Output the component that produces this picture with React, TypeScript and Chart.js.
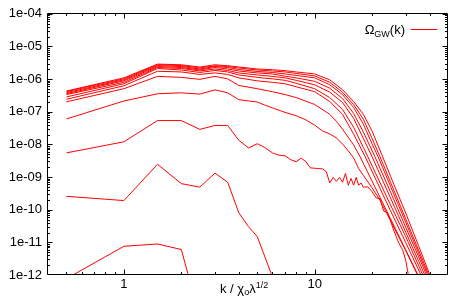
import React, { useEffect, useRef } from "react";
import { Chart, registerables } from "chart.js";

Chart.register(...registerables);

// ---- data: k values and log10(Omega_GW) ----
const k1 = [0.5, 1, 1.5, 2, 2.5];
const e1 = [-12.11, -11.12, -11.05, -11.22, -13.3];

const k2 = [0.5, 1, 1.5, 2, 2.5, 3, 3.5, 4, 4.5, 5, 6];
const e2 = [-9.59, -9.72, -8.61, -9.2, -9.31, -8.88, -9.16, -10.09, -10.52, -10.82, -12.05];

const k3 = [0.5, 1, 1.5, 2, 2.5, 3, 3.5, 4, 4.5, 5, 5.5, 6, 6.5, 7, 7.5, 8, 8.5, 9, 9.5, 10, 10.5, 11, 11.5, 12, 12.5, 13, 13.5, 14, 14.5, 15, 15.5, 16, 16.5, 17, 17.5, 18, 19, 20, 21, 22, 22.5, 23, 24, 25, 26, 27.5, 29, 30, 31, 32];
const e3 = [-8.26, -7.92, -7.27, -7.27, -7.54, -7.42, -7.42, -7.87, -8.11, -7.98, -8.1, -8.26, -8.33, -8.35, -8.47, -8.53, -8.42, -8.53, -8.72, -8.73, -8.74, -8.75, -8.83, -9.18, -9.01, -9.13, -9.01, -9.16, -8.89, -9.25, -9.04, -9.25, -9.01, -9.25, -9.18, -9.31, -9.3, -9.45, -9.64, -9.66, -9.86, -10.04, -10.09, -10.34, -10.64, -11.0, -11.25, -11.55, -12.0, -12.3];

const k4 = [0.5, 1, 1.5, 2, 2.5, 3, 3.5, 4, 4.5, 5, 5.5, 6, 7, 8, 9, 10, 11, 12, 13, 14, 15, 16, 17, 18, 20, 22, 25, 30, 34.2, 40];
const e4 = [-7.22, -6.67, -6.45, -6.42, -6.46, -6.33, -6.42, -6.63, -6.67, -6.7, -6.8, -6.88, -7.02, -7.12, -7.25, -7.41, -7.59, -7.68, -7.8, -7.99, -8.2, -8.41, -8.74, -8.95, -9.33, -9.71, -10.34, -11.25, -11.94, -12.91];

const k5 = [0.5, 1, 1.5, 2, 2.5, 3, 3.5, 4, 5, 6, 7, 8, 10, 12, 13, 14, 16, 17.3, 25, 30, 34.4, 45, 50];
const e5 = [-6.696, -6.294, -5.917, -5.947, -6.008, -5.917, -5.992, -6.195, -6.294, -6.385, -6.475, -6.566, -6.777, -7.079, -7.291, -7.532, -8.015, -8.377, -10.279, -11.23, -11.94, -13.328, -13.872];

const k6 = [0.5, 1, 1.5, 2, 2.5, 3, 3.5, 4, 5, 6, 7, 8, 10, 12, 14, 16, 18.4, 25, 30, 35.7, 45, 50];
const e6 = [-6.617, -6.204, -5.76, -5.781, -5.857, -5.811, -5.857, -5.962, -6.053, -6.098, -6.143, -6.234, -6.385, -6.687, -7.079, -7.683, -8.377, -10.038, -11.004, -11.94, -13.178, -13.842];

const k7 = [0.5, 1, 1.5, 2, 2.5, 3, 3.5, 4, 5, 6, 7, 8, 10, 12, 14, 16, 18, 19, 25, 30, 35, 36.5, 45, 50];
const e7 = [-6.545, -6.143, -5.675, -5.721, -5.796, -5.736, -5.781, -5.872, -5.947, -5.992, -6.038, -6.128, -6.294, -6.566, -6.928, -7.472, -8.091, -8.377, -9.857, -10.823, -11.698, -11.94, -13.087, -13.751];

const k8 = [0.5, 1, 1.5, 2, 2.5, 3, 3.5, 4, 5, 6, 7, 8, 10, 12, 14, 16, 18, 20, 25, 30, 35, 37.4, 45, 50];
const e8 = [-6.475, -6.098, -5.645, -5.675, -5.751, -5.691, -5.736, -5.811, -5.872, -5.917, -5.962, -6.038, -6.174, -6.4, -6.717, -7.2, -7.819, -8.377, -9.645, -10.687, -11.562, -11.94, -12.996, -13.66];

const k9 = [0.5, 1, 1.5, 2, 2.5, 3, 3.5, 4, 5, 6, 7, 8, 10, 12, 14, 16, 18, 20.7, 25, 30, 35, 38.2, 45, 50];
const e9 = [-6.445, -6.053, -5.615, -5.645, -5.721, -5.645, -5.691, -5.751, -5.811, -5.842, -5.911, -5.962, -6.068, -6.279, -6.596, -7.049, -7.623, -8.377, -9.464, -10.536, -11.427, -11.94, -12.906, -13.57];

const k10 = [0.5, 1, 1.5, 2, 2.5, 3, 3.5, 4, 5, 6, 7, 8, 10, 12, 14, 16, 18, 20, 21.5, 25, 30, 35, 38.8, 45, 50];
const e10 = [-6.415, -6.023, -5.585, -5.615, -5.691, -5.615, -5.645, -5.706, -5.766, -5.796, -5.842, -5.887, -5.962, -6.174, -6.475, -6.868, -7.381, -7.985, -8.377, -9.283, -10.385, -11.321, -11.94, -12.845, -13.479];

const k11 = [0.5, 1, 1.5, 2, 2.5, 3, 3.5, 4, 5, 6, 7, 8, 10, 12, 14, 16, 18, 20, 22, 25, 30, 35, 39.3, 45, 50];
const e11 = [-6.385, -5.992, -5.561, -5.585, -5.66, -5.591, -5.615, -5.66, -5.721, -5.751, -5.781, -5.826, -5.902, -6.098, -6.4, -6.777, -7.23, -7.819, -8.377, -9.162, -10.279, -11.23, -11.94, -12.785, -13.449];

const k12 = [0.5, 1, 1.5, 2, 2.5, 3, 3.5, 4, 5, 6, 7, 8, 10, 12, 14, 16, 18, 20, 22.5, 25, 30, 35, 40, 45, 50];
const e12 = [-6.364, -5.962, -5.54, -5.561, -5.63, -5.561, -5.591, -5.63, -5.691, -5.712, -5.742, -5.781, -5.842, -6.023, -6.325, -6.687, -7.079, -7.592, -8.317, -8.981, -10.098, -11.094, -11.97, -12.755, -13.449];

const curveK = [k1, k2, k3, k4, k5, k6, k7, k8, k9, k10, k11, k12];
const curveE = [e1, e2, e3, e4, e5, e6, e7, e8, e9, e10, e11, e12];

const xTickValues = [1, 10];
const xMinorTicks = [0.5, 0.6, 0.7, 0.8, 0.9, 2, 3, 4, 5, 6, 7, 8, 9, 20, 30, 40];
const yDecades = [-12, -11, -10, -9, -8, -7, -6, -5, -4];
const yMinorMultipliers = [2, 3, 4, 5, 6, 7, 8, 9];
const xMin = 0.4;
const xMax = 50;
const yMin = 1e-12;
const yMax = 1e-4;

const FONT = "'Liberation Sans', Arial, Helvetica, sans-serif";
const RED = "#ff0000";

function drawRich(ctx: CanvasRenderingContext2D, segs: { t: string; s: number; dy: number }[], x: number, base: number) {
  let cx = x;
  for (const seg of segs) {
    ctx.font = `${seg.s}px ${FONT}`;
    ctx.fillText(seg.t, cx, base + seg.dy);
    cx += ctx.measureText(seg.t).width;
  }
  return cx;
}
function richWidth(ctx: CanvasRenderingContext2D, segs: { t: string; s: number; dy: number }[]) {
  let w = 0;
  for (const seg of segs) {
    ctx.font = `${seg.s}px ${FONT}`;
    w += ctx.measureText(seg.t).width;
  }
  return w;
}

const framePlugin = {
  id: "gnuFrame",
  afterDraw(chart: any) {
    const { ctx, chartArea: a, scales } = chart;
    const xs = scales.x;
    const ys = scales.y;
    const L = Math.round(a.left) - 0.5;
    const R = Math.round(a.right) - 0.5;
    const T = Math.round(a.top) - 0.5;
    const B = Math.round(a.bottom) - 0.5;
    ctx.save();
    ctx.strokeStyle = "#000";
    ctx.lineWidth = 1;
    ctx.beginPath();
    ctx.rect(L, T, R - L, B - T);
    // y ticks
    const yt = (v: number, len: number) => {
      const p = Math.round(ys.getPixelForValue(v)) + 0.5;
      if (p < T + 1 || p > B - 1) return;
      ctx.moveTo(L, p); ctx.lineTo(L + len, p);
      ctx.moveTo(R, p); ctx.lineTo(R - len, p);
    };
    for (const d of yDecades) {
      yt(Math.pow(10, d), 5);
      for (const m of yMinorMultipliers) yt(m * Math.pow(10, d), 2.5);
    }
    const xt = (v: number, len: number) => {
      const p = Math.round(xs.getPixelForValue(v)) + 0.5;
      if (p < L + 1 || p > R - 1) return;
      ctx.moveTo(p, B); ctx.lineTo(p, B - len);
      ctx.moveTo(p, T); ctx.lineTo(p, T + len);
    };
    for (const v of xTickValues) xt(v, 5);
    for (const v of xMinorTicks) xt(v, 2.5);
    ctx.stroke();

    // x-axis title
    ctx.fillStyle = "#000";
    ctx.textBaseline = "alphabetic";
    ctx.textAlign = "left";
    const title = [
      { t: "k / \u03c7", s: 13, dy: 0 },
      { t: "o", s: 9, dy: 2 },
      { t: "\u03bb", s: 13, dy: 0 },
      { t: "1/2", s: 9, dy: -5 },
    ];
    drawRich(ctx, title, 220, 293);

    // legend
    const leg = [
      { t: "\u03a9", s: 13, dy: 0 },
      { t: "GW", s: 9, dy: 3 },
      { t: "(k)", s: 13, dy: 0 },
    ];
    const w = richWidth(ctx, leg);
    drawRich(ctx, leg, 405 - w, 34);
    ctx.strokeStyle = RED;
    ctx.beginPath();
    ctx.moveTo(411, 29.5);
    ctx.lineTo(437, 29.5);
    ctx.stroke();
    ctx.restore();
  },
};

export default function App() {
  const ref = useRef<HTMLCanvasElement | null>(null);
  useEffect(() => {
    if (!ref.current) return;
    const datasets = curveK.map((ks, i) => ({
      label: "c" + i,
      data: ks.map((k, j) => ({ x: k, y: Math.pow(10, curveE[i][j]) })),
      borderColor: RED,
      backgroundColor: RED,
      borderWidth: 1,
      pointRadius: 0,
      tension: 0,
      fill: false,
      clip: 0,
    }));
    const chart = new Chart(ref.current, {
      type: "line",
      data: { datasets },
      plugins: [framePlugin],
      options: {
        animation: false,
        responsive: false,
        devicePixelRatio: 1,
        layout: { padding: { left: 0, right: 15, top: 10, bottom: 0 } },
        plugins: { legend: { display: false }, tooltip: { enabled: false }, title: { display: false } },
        scales: {
          x: {
            type: "logarithmic",
            min: xMin,
            max: xMax,
            grid: { display: false, drawTicks: false },
            border: { display: false },
            ticks: {
              autoSkip: false,
              maxRotation: 0,
              minRotation: 0,
              padding: 2,
              color: "#000",
              font: { family: FONT, size: 13 },
              callback: (v: any) => String(v),
            },
            afterBuildTicks: (s: any) => {
              s.ticks = xTickValues.map((v) => ({ value: v }));
            },
            afterFit: (s: any) => {
              s.height = 25;
            },
          },
          y: {
            type: "logarithmic",
            min: yMin,
            max: yMax,
            grid: { display: false, drawTicks: false },
            border: { display: false },
            ticks: {
              autoSkip: false,
              padding: 6,
              color: "#000",
              font: { family: FONT, size: 13 },
              callback: (v: any) => {
                const e = Math.round(Math.log10(Number(v)));
                return "1e" + (e < 0 ? "-" : "+") + String(Math.abs(e)).padStart(2, "0");
              },
            },
            afterBuildTicks: (s: any) => {
              s.ticks = yDecades.map((d) => ({ value: Math.pow(10, d) }));
            },
            afterFit: (s: any) => {
              s.width = 48;
            },
          },
        },
      } as any,
    });
    return () => chart.destroy();
  }, []);
  return (
    <div style={{ position: "absolute", left: 0, top: 0, width: 463, height: 300, background: "#fff" }}>
      <canvas ref={ref} width={463} height={300} style={{ width: 463, height: 300, display: "block" }} />
    </div>
  );
}
